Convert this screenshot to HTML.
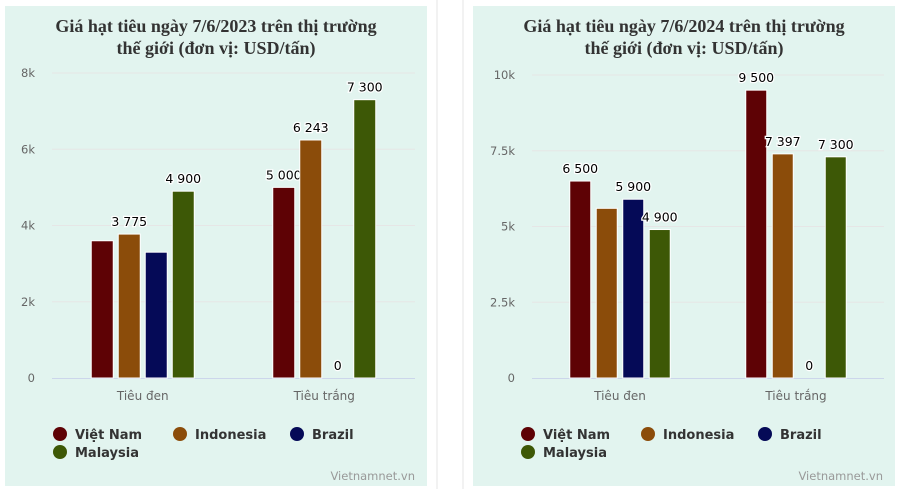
<!DOCTYPE html>
<html><head><meta charset="utf-8"><style>
body{margin:0;width:897px;height:489px;background:#fff;overflow:hidden;font-family:"DejaVu Sans","Liberation Sans",sans-serif}
svg{position:absolute;top:0;left:0}
</style></head><body>
<svg width="897" height="489">
<line x1="437" y1="0" x2="437" y2="489" stroke="#e6e6e6"/>
<line x1="463" y1="0" x2="463" y2="489" stroke="#e6e6e6"/>
<g id="c1"></g>
<g id="c2"></g>
</svg>
<script>
const categories=["Tiêu đen","Tiêu trắng"];
const seriesNames=["Việt Nam","Indonesia","Brazil","Malaysia"];
const colors=["#5e0205","#8b4c0a","#050a57","#3d5806"];
const values2023VN=[3600,5000],values2023ID=[3775,6243],values2023BR=[3300,0],values2023MY=[4900,7300];
const values2024VN=[6500,9500],values2024ID=[5600,7397],values2024BR=[5900,0],values2024MY=[4900,7300];
const ticks2023=[0,2000,4000,6000,8000],tickLabels2023=["0","2k","4k","6k","8k"];
const ticks2024=[0,2500,5000,7500,10000],tickLabels2024=["0","2.5k","5k","7.5k","10k"];
const show2023=[[false,true,false,true],[true,true,true,true]];
const show2024=[[true,false,true,true],[true,true,true,true]];
const NS="http://www.w3.org/2000/svg";
function mk(p,t,a,txt){const e=document.createElementNS(NS,t);for(const k in a)e.setAttribute(k,a[k]);if(txt!==undefined)e.textContent=txt;p.appendChild(e);return e;}
function fmt(v){return String(v).replace(/\B(?=(\d{3})+(?!\d))/g," ");}
function draw(g,o){
 const bg=mk(g,'rect',{x:o.px,y:6,width:o.pw,height:480,fill:'#e2f4ef'});
 
 o.title.forEach((t,i)=>{const e=mk(g,'text',{x:o.px+o.pw/2,y:32+i*22,'text-anchor':'middle','font-family':'Liberation Serif,serif','font-weight':'bold','font-size':'18',fill:'#333'},t);
 });
 const y=v=>o.y0-(v/o.max)*(o.y0-o.yTop);
 o.ticks.forEach((t,i)=>{
  if(i>0){const l=mk(g,'line',{x1:o.x0,x2:o.x1,y1:y(t),y2:y(t),stroke:'#e6e6e6'});}
  const e=mk(g,'text',{x:o.x0-17,y:y(t)+4,'text-anchor':'end','font-size':'11.5',fill:'#666'},o.tickLabels[i]);
  });
 const ax=mk(g,'line',{x1:o.x0,x2:o.x1,y1:o.y0+0.5,y2:o.y0+0.5,stroke:'#ccd6eb'});
 
 const cw=(o.x1-o.x0)/categories.length;
 categories.forEach((c,ci)=>{
  const cx=o.x0+cw*(ci+0.5);
  const e=mk(g,'text',{x:cx,y:o.y0+22,'text-anchor':'middle','font-size':'12',fill:'#666'},c);
  
  o.series.forEach((s,si)=>{
   const bx=cx+(si-2)*o.step+(o.step-o.bw)/2;const v=s[ci];
   const r=mk(g,'rect',{x:bx,y:y(v),width:o.bw,height:o.y0-y(v),fill:colors[si],stroke:'#fff','stroke-width':1});
   
   if(o.show[ci][si]){const lb=mk(g,'text',{x:bx+o.bw/2,y:y(v)-8,'text-anchor':'middle','font-size':'12.5','font-weight':'500',fill:'#000',stroke:'#fff','stroke-width':2.5,'paint-order':'stroke'},fmt(v));
   }
  });
 });
 const lx=[o.px+55,o.px+175,o.px+292,o.px+55],ly=[434,434,434,452];
 seriesNames.forEach((n,i)=>{
  const c=mk(g,'circle',{cx:lx[i],cy:ly[i],r:7,fill:colors[i]});
  const t=mk(g,'text',{x:lx[i]+15,y:ly[i]+5,'font-size':'13','font-weight':'bold',fill:'#333'},n);});
 const cr=mk(g,'text',{x:o.px+o.pw-12,y:480,'text-anchor':'end','font-size':'11.5',fill:'#999'},'Vietnamnet.vn');
 
}
draw(document.getElementById('c1'),{px:5,pw:422,x0:52,x1:415,y0:378,yTop:73,max:8000,step:27,bw:22,ticks:ticks2023,tickLabels:tickLabels2023,
 series:[values2023VN,values2023ID,values2023BR,values2023MY],show:show2023,title:["Giá hạt tiêu ngày 7/6/2023 trên thị trường","thế giới (đơn vị: USD/tấn)"]});
draw(document.getElementById('c2'),{px:473,pw:422,x0:532,x1:884,y0:378,yTop:75,max:10000,step:26.5,bw:21,ticks:ticks2024,tickLabels:tickLabels2024,
 series:[values2024VN,values2024ID,values2024BR,values2024MY],show:show2024,title:["Giá hạt tiêu ngày 7/6/2024 trên thị trường","thế giới (đơn vị: USD/tấn)"]});
</script>
</body></html>
